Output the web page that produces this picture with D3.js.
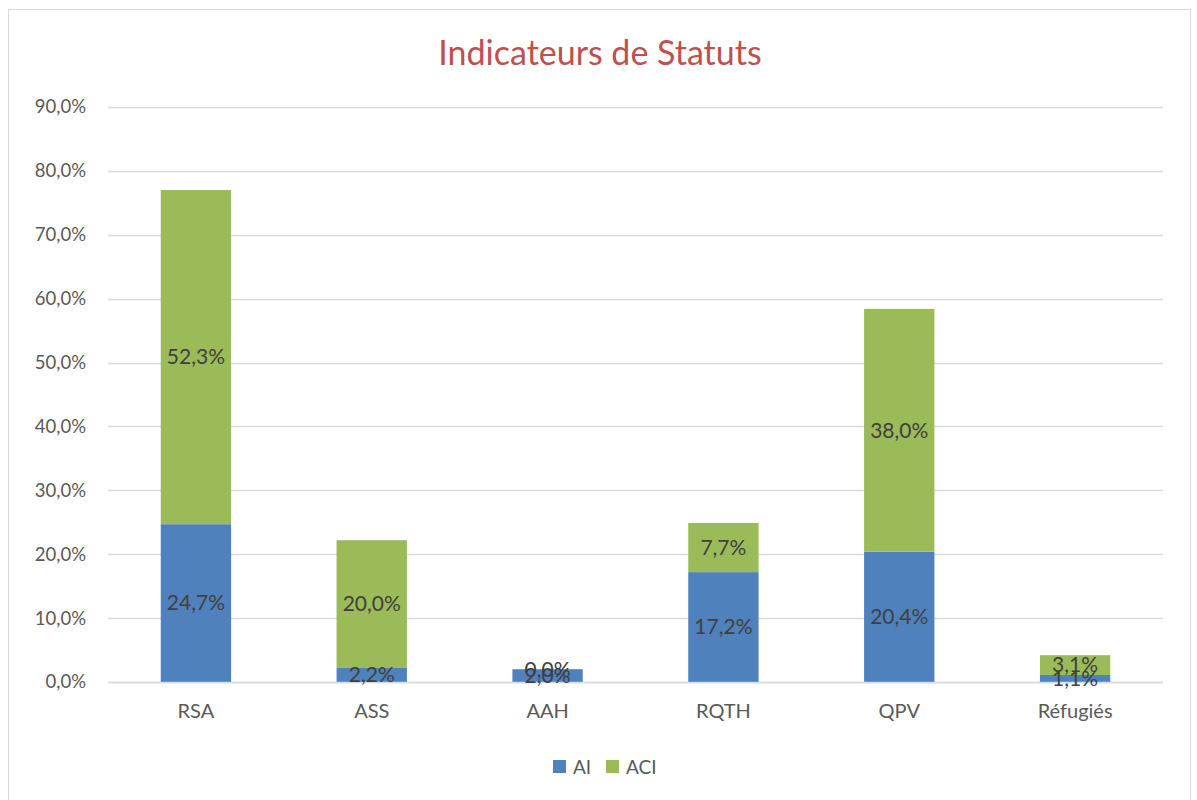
<!DOCTYPE html>
<html>
<head>
<meta charset="utf-8">
<script src="https://cdn.jsdelivr.net/npm/d3@7"></script>
<style>
    body { margin: 0; background: #fff; }
    svg { display: block; font-family: Lato, "Open Sans", sans-serif; }
</style>
</head>
<body>
<svg id="chart" width="1197" height="800"></svg>
<script>
const categories = ["RSA", "ASS", "AAH", "RQTH", "QPV", "Réfugiés"];
const seriesNames = ["AI", "ACI"];
const aiValues = [24.7, 2.2, 2.0, 17.2, 20.4, 1.1];
const aciValues = [52.3, 20.0, 0.0, 7.7, 38.0, 3.1];
const yTicks = [0, 10, 20, 30, 40, 50, 60, 70, 80, 90];

const colors = { AI: "#4F81BD", ACI: "#9BBB59" };

const svg = d3.select("#chart");
const margin = { left: 108, right: 34, top: 107, bottom: 118 };
const width = +svg.attr("width"), height = +svg.attr("height");

const fmt = v => v.toFixed(1).replace(".", ",") + "%";

// chart frame
svg.append("rect")
    .attr("x", 8.5).attr("y", 9.5)
    .attr("width", 1182).attr("height", 800)
    .attr("fill", "#fff").attr("stroke", "#D9D9D9");

svg.append("text")
    .attr("x", 600).attr("y", 65)
    .attr("text-anchor", "middle")
    .attr("font-size", 34)
    .attr("fill", "#C0504D")
    .text("Indicateurs de Statuts");

const x = d3.scaleBand()
    .domain(categories)
    .range([margin.left, width - margin.right])
    .paddingInner(0.6)
    .paddingOuter(0.3);

const y = d3.scaleLinear()
    .domain([0, 90])
    .range([height - margin.bottom, margin.top]);

// gridlines
svg.append("g")
    .selectAll("line")
    .data(yTicks)
    .enter().append("line")
    .attr("x1", margin.left).attr("x2", width - margin.right)
    .attr("y1", d => Math.round(y(d)) + 0.5).attr("y2", d => Math.round(y(d)) + 0.5)
    .attr("stroke", "#D9D9D9").attr("stroke-width", 1.5);

// y axis labels
const yAxis = svg.append("g")
    .attr("transform", "translate(" + margin.left + ",0)")
    .call(d3.axisLeft(y).tickValues(yTicks).tickFormat(fmt).tickSize(0).tickPadding(22));
yAxis.select(".domain").remove();
yAxis.selectAll("text").attr("font-size", 18.5).attr("fill", "#595959").attr("font-family", "Lato, sans-serif");

const rows = categories.map((c, i) => ({ cat: c, AI: aiValues[i], ACI: aciValues[i] }));
const stacked = d3.stack().keys(seriesNames)(rows);

const layers = svg.append("g")
    .selectAll("g")
    .data(stacked)
    .enter().append("g")
    .attr("fill", d => colors[d.key]);

layers.selectAll("rect")
    .data(d => d)
    .enter().append("rect")
    .attr("x", d => x(d.data.cat))
    .attr("width", x.bandwidth())
    .attr("y", d => y(d[1]))
    .attr("height", d => y(d[0]) - y(d[1]));

// baseline
svg.append("line")
    .attr("x1", margin.left).attr("x2", width - margin.right)
    .attr("y1", y(0) + 0.5).attr("y2", y(0) + 0.5)
    .attr("stroke", "#D9D9D9").attr("stroke-width", 1.5);

// data labels
stacked.forEach(layer => {
    svg.append("g")
        .selectAll("text")
        .data(layer)
        .enter().append("text")
        .attr("x", d => x(d.data.cat) + x.bandwidth() / 2)
        .attr("y", d => (y(d[0]) + y(d[1])) / 2)
        .attr("dy", "0.35em")
        .attr("text-anchor", "middle")
        .attr("font-size", 21)
        .attr("fill", "#404040")
        .text(d => fmt(d[1] - d[0]));
});

// category labels
const xAxis = svg.append("g")
    .attr("transform", "translate(0," + y(0) + ")")
    .call(d3.axisBottom(x).tickSize(0).tickPadding(22));
xAxis.select(".domain").remove();
xAxis.selectAll("text").attr("font-size", 20).attr("fill", "#595959").attr("font-family", "Lato, sans-serif");

// legend
const legend = svg.append("g").attr("transform", "translate(553,760)");
const legendX = [0, 53];
seriesNames.forEach((s, i) => {
    const g = legend.append("g").attr("transform", "translate(" + legendX[i] + ",0)");
    g.append("rect").attr("width", 13).attr("height", 13).attr("fill", colors[s]);
    g.append("text").attr("x", 20).attr("y", 7).attr("dy", "0.35em")
        .attr("font-size", 19).attr("fill", "#595959").text(s);
});
</script>
</body>
</html>
